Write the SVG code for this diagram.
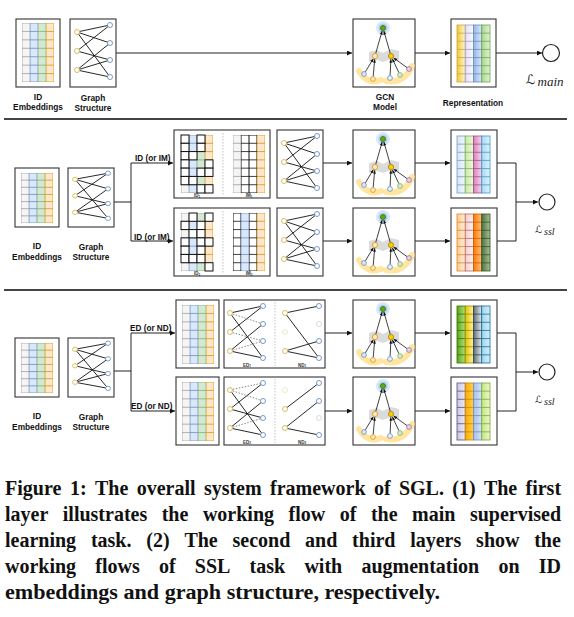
<svg xmlns="http://www.w3.org/2000/svg" width="574" height="617" viewBox="0 0 574 617">
<style>
.box{fill:#fff;stroke:#333;stroke-width:1.1}
.lbl{font-family:"Liberation Sans",Arial,sans-serif;font-weight:bold;font-size:8.3px;fill:#111;text-anchor:middle}
.alb{font-family:"Liberation Sans",Arial,sans-serif;font-weight:bold;font-size:8.2px;fill:#111}
.tiny{font-family:"Liberation Sans",Arial,sans-serif;font-weight:bold;font-size:4.5px;fill:#333;text-anchor:middle}
.cap{font-family:"Liberation Serif","Times New Roman",serif;font-weight:bold;font-size:20px;fill:#111}
.con{fill:none;stroke:#222;stroke-width:1}
.arr{fill:none;stroke:#222;stroke-width:1;marker-end:url(#ah)}
.sep{stroke:#444;stroke-width:2}
.e{stroke:#111;stroke-width:0.9;fill:none}
.ed{stroke:#555;stroke-width:0.7;stroke-dasharray:1.5 1.5;fill:none}
.u{fill:#fff;stroke:#d6b656;stroke-width:0.9}
.i{fill:#fff;stroke:#6c8ebf;stroke-width:0.9}
.fade{opacity:0.35}
.dsep{stroke:#999;stroke-width:0.6;stroke-dasharray:1.5 1.5}
.cx{fill:#fff;stroke:#111;stroke-width:1}
.loss{fill:#fff;stroke:#222;stroke-width:1.2}
.L{font-family:"DejaVu Serif","DejaVu Sans",serif;fill:#222}
.sub{font-family:"Liberation Serif",serif;font-style:italic;fill:#222}
.ge{stroke:#111;stroke-width:0.8;fill:none;marker-end:url(#ahs)}
</style>
<defs>
<marker id="ah" markerWidth="5" markerHeight="5" refX="5" refY="2.5" orient="auto" markerUnits="userSpaceOnUse"><path d="M0,0 L5,2.5 L0,5 z" fill="#111"/></marker>
<marker id="ahs" markerWidth="3.5" markerHeight="3" refX="3.5" refY="1.5" orient="auto" markerUnits="userSpaceOnUse"><path d="M0,0 L3.5,1.5 L0,3 z" fill="#111"/></marker>
<path id="rl" d="M0 8.286H8M0 16.571H8M0 24.857H8M0 33.143H8M0 41.429H8M0 49.714H8" fill="none" stroke-width="0.8" vector-effect="non-scaling-stroke"/>
<path id="rr" d="M0 8.143H8.25M0 16.286H8.25M0 24.429H8.25M0 32.571H8.25M0 40.714H8.25M0 48.857H8.25" fill="none" stroke-width="0.8"/>
<symbol id="cG" viewBox="0 0 8 58" preserveAspectRatio="none"><rect width="8" height="58" fill="#f5f5f5" stroke="#9e9e9e" stroke-width="0.8" vector-effect="non-scaling-stroke"/><use href="#rl" stroke="#9e9e9e"/></symbol>
<symbol id="cB" viewBox="0 0 8 58" preserveAspectRatio="none"><rect width="8" height="58" fill="#dae8fc" stroke="#6c8ebf" stroke-width="0.8" vector-effect="non-scaling-stroke"/><use href="#rl" stroke="#6c8ebf"/></symbol>
<symbol id="cN" viewBox="0 0 8 58" preserveAspectRatio="none"><rect width="8" height="58" fill="#d5e8d4" stroke="#82b366" stroke-width="0.8" vector-effect="non-scaling-stroke"/><use href="#rl" stroke="#82b366"/></symbol>
<symbol id="cO" viewBox="0 0 8 58" preserveAspectRatio="none"><rect width="8" height="58" fill="#ffe6cc" stroke="#d79b00" stroke-width="0.8" vector-effect="non-scaling-stroke"/><use href="#rl" stroke="#d79b00"/></symbol>
<symbol id="cX" viewBox="0 0 8 58" preserveAspectRatio="none"><rect width="8" height="58" fill="#fff" stroke="#111" stroke-width="1" vector-effect="non-scaling-stroke"/><use href="#rl" stroke="#111" stroke-width="1"/></symbol>
<symbol id="bg" viewBox="0 0 46 68" preserveAspectRatio="none">
<path class="e" vector-effect="non-scaling-stroke" d="M7 13L40 6M7 13L40 24M7 13L40 58M7 32L40 6M7 32L40 41M7 51L40 24M7 51L40 41M7 51L40 58"/>
<circle class="u" cx="7" cy="13" r="2.5"/><circle class="u" cx="7" cy="32" r="2.5"/><circle class="u" cx="7" cy="51" r="2.5"/>
<circle class="i" cx="40" cy="6" r="2.5"/><circle class="i" cx="40" cy="24" r="2.5"/><circle class="i" cx="40" cy="41" r="2.5"/><circle class="i" cx="40" cy="58" r="2.5"/>
</symbol>
<symbol id="gcn" viewBox="0 0 62 68">
<path d="M6 52Q14 66 28 61" stroke="#ffdc80" stroke-width="6" fill="none" opacity="0.75" stroke-linecap="round"/>
<path d="M33 62Q51 65 59 47" stroke="#ffdc80" stroke-width="6" fill="none" opacity="0.75" stroke-linecap="round"/>
<path d="M16 33L24 31L30 34L38 30L46 32L46 42L38 40L30 43L24 41L16 43Z" fill="#cfcfcf" opacity="0.75"/>
<circle cx="30" cy="9" r="7" fill="#dae8fc"/>
<circle cx="30" cy="9" r="4.6" fill="#b3cff0"/>
<path class="ge" d="M22.7 34.5L29.1 12.1"/><path class="ge" d="M37.3 34.5L30.9 12.1"/>
<path class="ge" d="M12.3 52.9L20.3 39.7"/><path class="ge" d="M20.2 57.6L21.7 40.2"/>
<path class="ge" d="M37.1 56.6L37.9 40.2"/><path class="ge" d="M45.9 53.7L39.4 39.9"/><path class="ge" d="M54 48.6L40.6 38.9"/>
<circle cx="30" cy="9" r="2.5" fill="#60a917" stroke="#2d7600" stroke-width="0.8"/>
<circle cx="22" cy="37" r="2.6" fill="#ffe6cc" stroke="#d79b00" stroke-width="0.8"/>
<circle cx="38" cy="37" r="2.6" fill="#ffcc00" stroke="#a88400" stroke-width="0.8"/>
<circle cx="11" cy="55" r="2.4" fill="#dae8fc" stroke="#6c8ebf" stroke-width="0.8"/>
<circle cx="20" cy="60" r="2.4" fill="#ffe6cc" stroke="#d79b00" stroke-width="0.8"/>
<circle cx="37" cy="59" r="2.4" fill="#eef3fb" stroke="#6c8ebf" stroke-width="0.8"/>
<circle cx="47" cy="56" r="2.4" fill="#d5e8d4" stroke="#82b366" stroke-width="0.8"/>
<circle cx="56" cy="50" r="2.4" fill="#e1d5e7" stroke="#9673a6" stroke-width="0.8"/>
</symbol>
<linearGradient id="gY"><stop offset="0" stop-color="#f0c93a"/><stop offset="1" stop-color="#fff5cc"/></linearGradient>
<linearGradient id="gLv"><stop offset="0" stop-color="#e3e0f3"/><stop offset="1" stop-color="#fbfbff"/></linearGradient>
<linearGradient id="gBl"><stop offset="0" stop-color="#94b6e8"/><stop offset="1" stop-color="#dae8fc"/></linearGradient>
<linearGradient id="gGr"><stop offset="0" stop-color="#a8d88c"/><stop offset="1" stop-color="#e3f3d6"/></linearGradient>
<linearGradient id="gSb"><stop offset="0" stop-color="#d4e4f4"/><stop offset="1" stop-color="#f2f7fc"/></linearGradient>
<linearGradient id="gLg"><stop offset="0" stop-color="#c9eaa0"/><stop offset="1" stop-color="#eef8e0"/></linearGradient>
<linearGradient id="gPk"><stop offset="0" stop-color="#d982bd"/><stop offset="1" stop-color="#f5d8ec"/></linearGradient>
<linearGradient id="gCy"><stop offset="0" stop-color="#a9d8f0"/><stop offset="1" stop-color="#e0f3fc"/></linearGradient>
<linearGradient id="gPe"><stop offset="0" stop-color="#ffc98f"/><stop offset="1" stop-color="#ffeedd"/></linearGradient>
<linearGradient id="gRs"><stop offset="0" stop-color="#f8cfcf"/><stop offset="1" stop-color="#fdf0f0"/></linearGradient>
<linearGradient id="gOr"><stop offset="0" stop-color="#ff7a00"/><stop offset="1" stop-color="#ffc080"/></linearGradient>
<linearGradient id="gDg"><stop offset="0" stop-color="#4f7340"/><stop offset="1" stop-color="#a8c293"/></linearGradient>
<linearGradient id="gGn"><stop offset="0" stop-color="#5aa516"/><stop offset="1" stop-color="#b5df80"/></linearGradient>
<linearGradient id="gYe"><stop offset="0" stop-color="#e0c400"/><stop offset="1" stop-color="#fff3a0"/></linearGradient>
<linearGradient id="gSl"><stop offset="0" stop-color="#5e6e7c"/><stop offset="1" stop-color="#e6ebef"/></linearGradient>
<linearGradient id="gLb"><stop offset="0" stop-color="#9fd4ee"/><stop offset="1" stop-color="#d8effa"/></linearGradient>
<linearGradient id="gLa"><stop offset="0" stop-color="#cac7e0"/><stop offset="1" stop-color="#eceaf6"/></linearGradient>
<linearGradient id="gOy"><stop offset="0" stop-color="#ffa800"/><stop offset="1" stop-color="#ffd24d"/></linearGradient>
<linearGradient id="gBm"><stop offset="0" stop-color="#a4c0ea"/><stop offset="1" stop-color="#d6e4f8"/></linearGradient>
<linearGradient id="gLi"><stop offset="0" stop-color="#c4e680"/><stop offset="1" stop-color="#ebf7cf"/></linearGradient>
</defs>
<rect width="574" height="617" fill="#fff"/>

<g id="separators">
<line class="sep" x1="4" y1="119" x2="567" y2="119"/>
<line class="sep" x1="4" y1="290" x2="567" y2="290"/>
</g>

<g id="connectors">
<path class="arr" d="M116 53H352"/>
<path class="arr" d="M415 53H450"/>
<path class="arr" d="M496 53H542"/>
<path class="con" d="M114 202H131M131 163V241"/>
<path class="arr" d="M131 163H173"/>
<path class="arr" d="M131 241H173"/>
<path class="arr" d="M323 163H352"/>
<path class="arr" d="M323 241H352"/>
<path class="arr" d="M415 163H450"/>
<path class="arr" d="M415 241H450"/>
<path class="con" d="M497 163H516V241H497"/>
<path class="arr" d="M516 202H538"/>
<path class="con" d="M114 371H131M131 333V411"/>
<path class="arr" d="M131 333H175"/>
<path class="arr" d="M131 411H175"/>
<path class="arr" d="M325 333H352"/>
<path class="arr" d="M325 411H352"/>
<path class="arr" d="M415 333H450"/>
<path class="arr" d="M415 411H450"/>
<path class="con" d="M497 333H516V411H497"/>
<path class="arr" d="M516 372H538"/>
<text class="alb" x="135" y="161">ID (or IM)</text>
<text class="alb" x="134" y="239.5">ID (or IM)</text>
<text class="alb" x="130" y="331">ED (or ND)</text>
<text class="alb" x="131" y="408.5">ED (or ND)</text>
</g>

<!-- Row 1 -->
<g id="n1-id">
<rect class="box" x="16" y="19" width="44" height="68"/>
<use href="#cG" x="22" y="23" width="8" height="59"/><use href="#cB" x="30" y="23" width="8" height="59"/><use href="#cN" x="38" y="23" width="8" height="59"/><use href="#cO" x="46" y="23" width="8" height="59"/>
<text class="lbl" x="38" y="100">ID</text><text class="lbl" x="38" y="110">Embeddings</text>
</g>
<g id="n1-graph">
<rect class="box" x="70" y="19" width="46" height="68"/>
<use href="#bg" x="70" y="19" width="46" height="68"/>
<text class="lbl" x="93" y="101">Graph</text><text class="lbl" x="93" y="111">Structure</text>
</g>
<g id="n1-gcn">
<rect class="box" x="353" y="19" width="62" height="68"/>
<use href="#gcn" x="353" y="19" width="62" height="68"/>
<text class="lbl" x="385" y="100">GCN</text><text class="lbl" x="385" y="110">Model</text>
</g>
<g id="n1-rep">
<rect class="box" x="451" y="19" width="45" height="68"/>
<rect x="457" y="25" width="8.25" height="57" fill="url(#gY)" stroke="#c9a83a" stroke-width="0.8"/><use href="#rr" x="457" y="25" stroke="#c9a83a"/>
<rect x="465.25" y="25" width="8.25" height="57" fill="url(#gLv)" stroke="#9f9ac4" stroke-width="0.8"/><use href="#rr" x="465.25" y="25" stroke="#9f9ac4"/>
<rect x="473.5" y="25" width="8.25" height="57" fill="url(#gBl)" stroke="#6c8ebf" stroke-width="0.8"/><use href="#rr" x="473.5" y="25" stroke="#6c8ebf"/>
<rect x="481.75" y="25" width="8.25" height="57" fill="url(#gGr)" stroke="#6ea656" stroke-width="0.8"/><use href="#rr" x="481.75" y="25" stroke="#6ea656"/>
<text class="lbl" x="473" y="106">Representation</text>
</g>
<g id="n1-loss">
<circle class="loss" cx="551" cy="53" r="8.5"/>
<text class="L" x="526" y="84" font-size="13">ℒ</text><text class="sub" x="537.5" y="86" font-size="13">main</text>
</g>

<!-- Row 2 -->
<g id="n2-id">
<rect class="box" x="15" y="168" width="44" height="59"/>
<use href="#cG" x="21" y="173" width="8" height="50"/><use href="#cB" x="29" y="173" width="8" height="50"/><use href="#cN" x="37" y="173" width="8" height="50"/><use href="#cO" x="45" y="173" width="8" height="50"/>
<text class="lbl" x="37" y="249">ID</text><text class="lbl" x="37" y="260">Embeddings</text>
</g>
<g id="n2-graph">
<rect class="box" x="68" y="168" width="46" height="59"/>
<use href="#bg" x="68" y="168" width="46" height="59"/>
<text class="lbl" x="91" y="250">Graph</text><text class="lbl" x="91" y="260">Structure</text>
</g>
<g id="n2-aug-a">
<rect class="box" x="174" y="130" width="96" height="68"/>
<use href="#cG" x="181" y="135" width="8" height="58"/><use href="#cB" x="189" y="135" width="8" height="58"/><use href="#cN" x="197" y="135" width="8" height="58"/><use href="#cO" x="205" y="135" width="8" height="58"/>
<rect class="cx" x="181" y="135" width="8" height="8.29"/><rect class="cx" x="197" y="135" width="8" height="8.29"/>
<rect class="cx" x="181" y="143.29" width="8" height="8.29"/><rect class="cx" x="197" y="143.29" width="8" height="8.29"/>
<rect class="cx" x="181" y="151.57" width="8" height="8.29"/><rect class="cx" x="189" y="151.57" width="8" height="8.29"/>
<rect class="cx" x="181" y="159.86" width="8" height="8.29"/><rect class="cx" x="205" y="159.86" width="8" height="8.29"/>
<rect class="cx" x="181" y="168.14" width="8" height="8.29"/><rect class="cx" x="197" y="168.14" width="8" height="8.29"/><rect class="cx" x="205" y="168.14" width="8" height="8.29"/>
<rect class="cx" x="181" y="176.43" width="8" height="8.29"/><rect class="cx" x="189" y="176.43" width="8" height="8.29"/>
<rect class="cx" x="197" y="184.71" width="8" height="8.29"/><rect class="cx" x="205" y="184.71" width="8" height="8.29"/>
<line class="dsep" x1="223" y1="133" x2="223" y2="195"/>
<use href="#cG" x="233" y="135" width="8" height="58"/><use href="#cX" x="241" y="135" width="8" height="58"/><use href="#cX" x="249" y="135" width="8" height="58"/><use href="#cO" x="257" y="135" width="8" height="58"/>
<text class="tiny" x="197" y="197">ID<tspan font-size="3" dy="0.8">1</tspan></text>
<text class="tiny" x="249" y="197">IM<tspan font-size="3" dy="0.8">1</tspan></text>
</g>
<g id="n2-aug-b">
<rect class="box" x="174" y="208" width="96" height="68"/>
<use href="#cG" x="181" y="213" width="8" height="58"/><use href="#cB" x="189" y="213" width="8" height="58"/><use href="#cN" x="197" y="213" width="8" height="58"/><use href="#cO" x="205" y="213" width="8" height="58"/>
<rect class="cx" x="189" y="213" width="8" height="8.29"/><rect class="cx" x="205" y="213" width="8" height="8.29"/>
<rect class="cx" x="181" y="221.29" width="8" height="8.29"/><rect class="cx" x="197" y="221.29" width="8" height="8.29"/>
<rect class="cx" x="189" y="229.57" width="8" height="8.29"/><rect class="cx" x="197" y="229.57" width="8" height="8.29"/>
<rect class="cx" x="181" y="237.86" width="8" height="8.29"/><rect class="cx" x="197" y="237.86" width="8" height="8.29"/><rect class="cx" x="205" y="237.86" width="8" height="8.29"/>
<rect class="cx" x="181" y="246.14" width="8" height="8.29"/><rect class="cx" x="197" y="246.14" width="8" height="8.29"/>
<rect class="cx" x="181" y="254.43" width="8" height="8.29"/><rect class="cx" x="189" y="254.43" width="8" height="8.29"/><rect class="cx" x="197" y="254.43" width="8" height="8.29"/>
<rect class="cx" x="205" y="262.71" width="8" height="8.29"/>
<line class="dsep" x1="223" y1="211" x2="223" y2="273"/>
<use href="#cX" x="233" y="213" width="8" height="58"/><use href="#cB" x="241" y="213" width="8" height="58"/><use href="#cX" x="249" y="213" width="8" height="58"/><use href="#cO" x="257" y="213" width="8" height="58"/>
<text class="tiny" x="197" y="275">ID<tspan font-size="3" dy="0.8">2</tspan></text>
<text class="tiny" x="249" y="275">IM<tspan font-size="3" dy="0.8">2</tspan></text>
</g>
<g id="n2-graph-a">
<rect class="box" x="277" y="130" width="46" height="68"/>
<use href="#bg" x="277" y="130" width="46" height="68"/>
</g>
<g id="n2-graph-b">
<rect class="box" x="277" y="208" width="46" height="68"/>
<use href="#bg" x="277" y="208" width="46" height="68"/>
</g>
<g id="n2-gcn-a">
<rect class="box" x="353" y="130" width="62" height="68"/>
<use href="#gcn" x="353" y="130" width="62" height="68"/>
</g>
<g id="n2-gcn-b">
<rect class="box" x="353" y="208" width="62" height="68"/>
<use href="#gcn" x="353" y="208" width="62" height="68"/>
</g>
<g id="n2-rep-a">
<rect class="box" x="451" y="130" width="46" height="68"/>
<rect x="457" y="136" width="8.25" height="57" fill="url(#gSb)" stroke="#7c9cc0" stroke-width="0.8"/><use href="#rr" x="457" y="136" stroke="#7c9cc0"/>
<rect x="465.25" y="136" width="8.25" height="57" fill="url(#gLg)" stroke="#7fb35a" stroke-width="0.8"/><use href="#rr" x="465.25" y="136" stroke="#7fb35a"/>
<rect x="473.5" y="136" width="8.25" height="57" fill="url(#gPk)" stroke="#a64d8c" stroke-width="0.8"/><use href="#rr" x="473.5" y="136" stroke="#a64d8c"/>
<rect x="481.75" y="136" width="8.25" height="57" fill="url(#gCy)" stroke="#3d9ccc" stroke-width="0.8"/><use href="#rr" x="481.75" y="136" stroke="#3d9ccc"/>
</g>
<g id="n2-rep-b">
<rect class="box" x="451" y="208" width="46" height="68"/>
<rect x="457" y="214" width="8.25" height="57" fill="url(#gPe)" stroke="#d98a2b" stroke-width="0.8"/><use href="#rr" x="457" y="214" stroke="#d98a2b"/>
<rect x="465.25" y="214" width="8.25" height="57" fill="url(#gRs)" stroke="#b46a6a" stroke-width="0.8"/><use href="#rr" x="465.25" y="214" stroke="#b46a6a"/>
<rect x="473.5" y="214" width="8.25" height="57" fill="url(#gOr)" stroke="#c86000" stroke-width="0.8"/><use href="#rr" x="473.5" y="214" stroke="#c86000"/>
<rect x="481.75" y="214" width="8.25" height="57" fill="url(#gDg)" stroke="#33502a" stroke-width="0.8"/><use href="#rr" x="481.75" y="214" stroke="#33502a"/>
</g>
<g id="n2-loss">
<circle class="loss" cx="547" cy="202" r="8"/>
<text class="L" x="535" y="233" font-size="10">ℒ</text><text class="sub" x="544" y="235" font-size="10">ssl</text>
</g>

<!-- Row 3 -->
<g id="n3-id">
<rect class="box" x="15" y="338" width="44" height="59"/>
<use href="#cG" x="21" y="343" width="8" height="50"/><use href="#cB" x="29" y="343" width="8" height="50"/><use href="#cN" x="37" y="343" width="8" height="50"/><use href="#cO" x="45" y="343" width="8" height="50"/>
<text class="lbl" x="37" y="419">ID</text><text class="lbl" x="37" y="430">Embeddings</text>
</g>
<g id="n3-graph">
<rect class="box" x="68" y="338" width="46" height="59"/>
<use href="#bg" x="68" y="338" width="46" height="59"/>
<text class="lbl" x="91" y="420">Graph</text><text class="lbl" x="91" y="430">Structure</text>
</g>
<g id="n3-emb-a">
<rect class="box" x="176" y="300" width="43" height="68"/>
<use href="#cG" x="182" y="305" width="8" height="59"/><use href="#cB" x="190" y="305" width="8" height="59"/><use href="#cN" x="198" y="305" width="8" height="59"/><use href="#cO" x="206" y="305" width="8" height="59"/>
</g>
<g id="n3-emb-b">
<rect class="box" x="176" y="377" width="43" height="68"/>
<use href="#cG" x="182" y="382" width="8" height="59"/><use href="#cB" x="190" y="382" width="8" height="59"/><use href="#cN" x="198" y="382" width="8" height="59"/><use href="#cO" x="206" y="382" width="8" height="59"/>
</g>
<g id="n3-aug-a">
<rect class="box" x="224" y="300" width="101" height="68"/>
<path class="e" d="M230 313L263 306M230 313L263 358M230 332L263 306M230 351L263 324M230 351L263 358"/>
<path class="ed" d="M230 313L263 324M230 332L263 341M230 351L263 341"/>
<circle class="u" cx="230" cy="313" r="2.5"/><circle class="u" cx="230" cy="332" r="2.5"/><circle class="u" cx="230" cy="351" r="2.5"/>
<circle class="i" cx="263" cy="306" r="2.5"/><circle class="i" cx="263" cy="324" r="2.5"/><circle class="i" cx="263" cy="341" r="2.5"/><circle class="i" cx="263" cy="358" r="2.5"/>
<line class="dsep" x1="275" y1="302" x2="275" y2="366"/>
<path class="e" d="M285 313L319 306M285 313L319 358M285 351L319 341M285 351L319 358"/>
<circle class="u" cx="285" cy="313" r="2.5"/><circle class="u fade" cx="285" cy="332" r="2.5"/><circle class="u" cx="285" cy="351" r="2.5"/>
<circle class="i" cx="319" cy="306" r="2.5"/><circle class="i fade" cx="319" cy="324" r="2.5"/><circle class="i" cx="319" cy="341" r="2.5"/><circle class="i" cx="319" cy="358" r="2.5"/>
<text class="tiny" x="247" y="366.5">ED<tspan font-size="3" dy="0.8">1</tspan></text>
<text class="tiny" x="302" y="366.5">ND<tspan font-size="3" dy="0.8">1</tspan></text>
</g>
<g id="n3-aug-b">
<rect class="box" x="224" y="377" width="101" height="68"/>
<path class="e" d="M230 390L263 435M230 409L263 383M230 409L263 418M230 428L263 401M230 428L263 435"/>
<path class="ed" d="M230 390L263 383M230 390L263 401M230 428L263 418"/>
<circle class="u" cx="230" cy="390" r="2.5"/><circle class="u" cx="230" cy="409" r="2.5"/><circle class="u" cx="230" cy="428" r="2.5"/>
<circle class="i" cx="263" cy="383" r="2.5"/><circle class="i" cx="263" cy="401" r="2.5"/><circle class="i" cx="263" cy="418" r="2.5"/><circle class="i" cx="263" cy="435" r="2.5"/>
<line class="dsep" x1="275" y1="379" x2="275" y2="443"/>
<path class="e" d="M285 409L319 383M285 428L319 401M285 428L319 435"/>
<circle class="u fade" cx="285" cy="390" r="2.5"/><circle class="u" cx="285" cy="409" r="2.5"/><circle class="u" cx="285" cy="428" r="2.5"/>
<circle class="i" cx="319" cy="383" r="2.5"/><circle class="i" cx="319" cy="401" r="2.5"/><circle class="i fade" cx="319" cy="418" r="2.5"/><circle class="i" cx="319" cy="435" r="2.5"/>
<text class="tiny" x="247" y="443.5">ED<tspan font-size="3" dy="0.8">2</tspan></text>
<text class="tiny" x="302" y="443.5">ND<tspan font-size="3" dy="0.8">2</tspan></text>
</g>
<g id="n3-gcn-a">
<rect class="box" x="353" y="300" width="62" height="68"/>
<use href="#gcn" x="353" y="300" width="62" height="68"/>
</g>
<g id="n3-gcn-b">
<rect class="box" x="353" y="377" width="62" height="68"/>
<use href="#gcn" x="353" y="377" width="62" height="68"/>
</g>
<g id="n3-rep-a">
<rect class="box" x="451" y="300" width="46" height="68"/>
<rect x="457" y="306" width="8.25" height="57" fill="url(#gGn)" stroke="#2d7600" stroke-width="0.8"/><use href="#rr" x="457" y="306" stroke="#2d7600"/>
<rect x="465.25" y="306" width="8.25" height="57" fill="url(#gYe)" stroke="#a08c00" stroke-width="0.8"/><use href="#rr" x="465.25" y="306" stroke="#a08c00"/>
<rect x="473.5" y="306" width="8.25" height="57" fill="url(#gSl)" stroke="#2e3f4e" stroke-width="0.8"/><use href="#rr" x="473.5" y="306" stroke="#2e3f4e"/>
<rect x="481.75" y="306" width="8.25" height="57" fill="url(#gLb)" stroke="#10739e" stroke-width="0.8"/><use href="#rr" x="481.75" y="306" stroke="#10739e"/>
</g>
<g id="n3-rep-b">
<rect class="box" x="451" y="377" width="46" height="68"/>
<rect x="457" y="383" width="8.25" height="57" fill="url(#gLa)" stroke="#56517e" stroke-width="0.8"/><use href="#rr" x="457" y="383" stroke="#56517e"/>
<rect x="465.25" y="383" width="8.25" height="57" fill="url(#gOy)" stroke="#c98500" stroke-width="0.8"/><use href="#rr" x="465.25" y="383" stroke="#c98500"/>
<rect x="473.5" y="383" width="8.25" height="57" fill="url(#gBm)" stroke="#6c8ebf" stroke-width="0.8"/><use href="#rr" x="473.5" y="383" stroke="#6c8ebf"/>
<rect x="481.75" y="383" width="8.25" height="57" fill="url(#gLi)" stroke="#7aa83a" stroke-width="0.8"/><use href="#rr" x="481.75" y="383" stroke="#7aa83a"/>
</g>
<g id="n3-loss">
<circle class="loss" cx="547" cy="372" r="8"/>
<text class="L" x="535" y="403" font-size="10">ℒ</text><text class="sub" x="544" y="405" font-size="10">ssl</text>
</g>

<g id="caption">
<text class="cap" y="495"><tspan x="5">Figure</tspan><tspan x="70">1:</tspan><tspan x="95">The</tspan><tspan x="136.7">overall</tspan><tspan x="203.9">system</tspan><tspan x="270">framework</tspan><tspan x="373.9">of</tspan><tspan x="398.9">SGL.</tspan><tspan x="452.3">(1)</tspan><tspan x="483.9">The</tspan><tspan x="525.5">first</tspan></text>
<text class="cap" y="521"><tspan x="5">layer</tspan><tspan x="62.8">illustrates</tspan><tspan x="161.7">the</tspan><tspan x="202.9">working</tspan><tspan x="288.5">flow</tspan><tspan x="339.7">of</tspan><tspan x="370.9">the</tspan><tspan x="412.1">main</tspan><tspan x="469.9">supervised</tspan></text>
<text class="cap" y="547"><tspan x="5">learning</tspan><tspan x="90.9">task.</tspan><tspan x="146.3">(2)</tspan><tspan x="184.4">The</tspan><tspan x="232.5">second</tspan><tspan x="305.1">and</tspan><tspan x="352.1">third</tspan><tspan x="410.2">layers</tspan><tspan x="476.1">show</tspan><tspan x="534.2">the</tspan></text>
<text class="cap" y="573"><tspan x="5">working</tspan><tspan x="95.3">flows</tspan><tspan x="158.9">of</tspan><tspan x="194.8">SSL</tspan><tspan x="249.6">task</tspan><tspan x="304.4">with</tspan><tspan x="361.4">augmentation</tspan><tspan x="498.4">on</tspan><tspan x="538.7">ID</tspan></text>
<text class="cap" x="5" y="599" textLength="435" lengthAdjust="spacingAndGlyphs">embeddings and graph structure, respectively.</text>
</g>
</svg>
